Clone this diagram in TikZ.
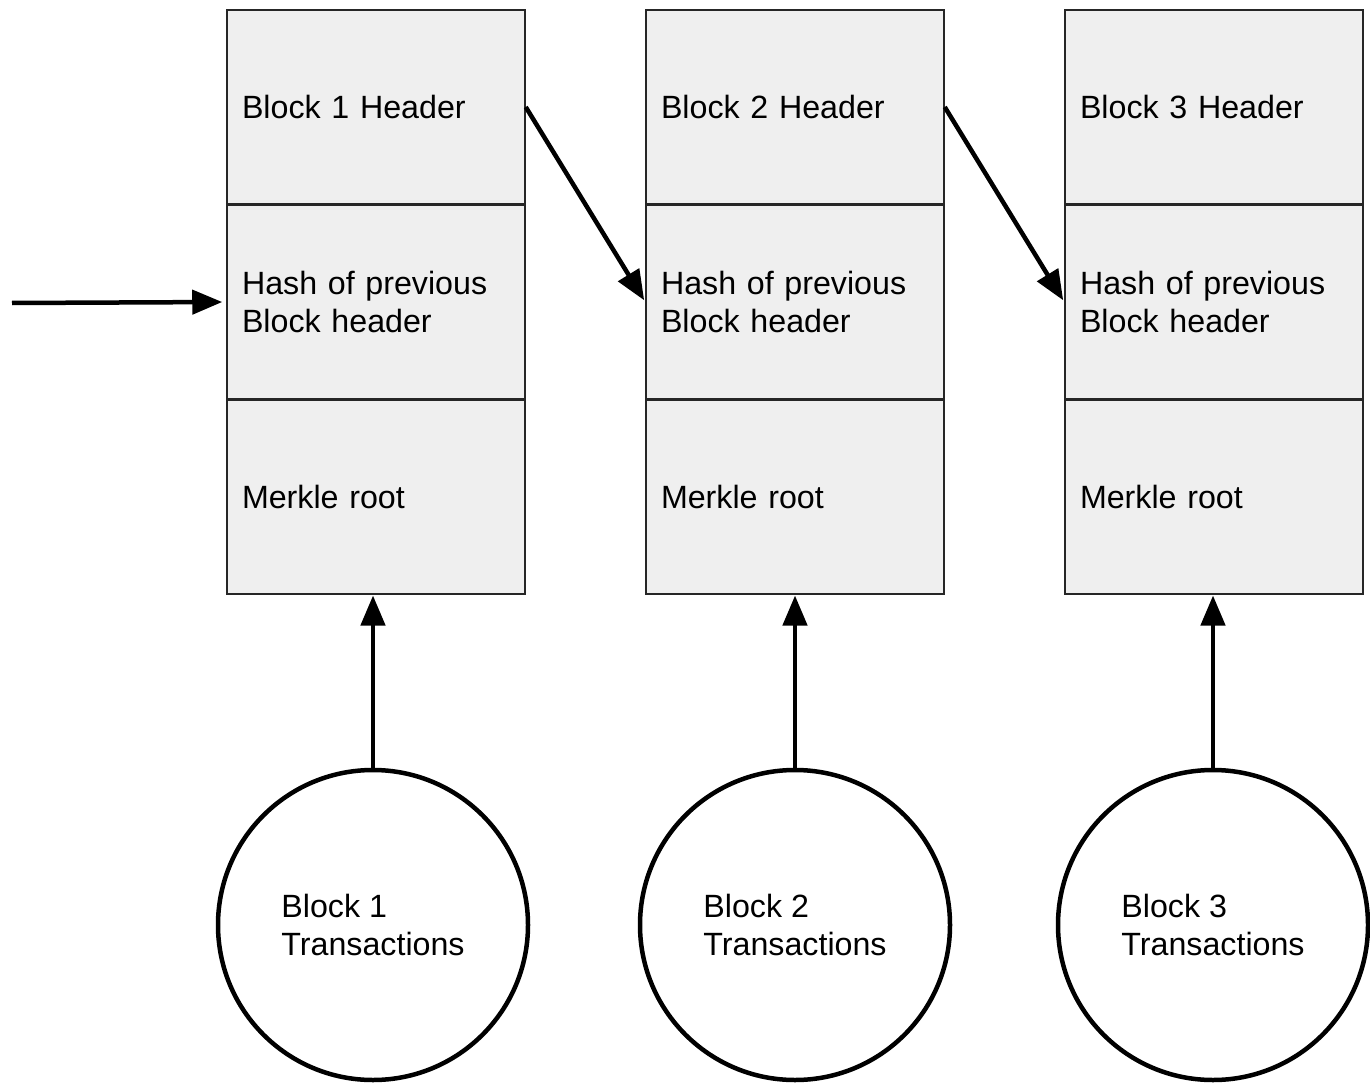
\documentclass[tikz,border=0pt]{standalone}
\usepackage{fontspec}
\setmainfont{Liberation Sans}
\usepackage{tikz}
\usetikzlibrary{positioning,arrows.meta}
\definecolor{cellgray}{HTML}{EFEFEF}
\tikzset{
  cell/.style={draw=black!85, line width=1.5pt, fill=cellgray, rectangle, text width=268pt, inner xsep=15pt, minimum height=193.5pt, align=left, font=\fontsize{32.2}{38}\selectfont},
  txcircle/.style={draw, circle, line width=4.5pt, minimum size=310pt, align=left, font=\fontsize{32.2}{38}\selectfont},
  link/.style={line width=4.5pt, -{Triangle[length=30pt,width=24pt]}}
}
\begin{document}
\begin{tikzpicture}[x=1pt,y=-1pt]
\useasboundingbox (0,0) rectangle (1370,1091);
%Blocks
\node [cell] (b1h) at (376,107) {Block 1 Header};
\node [cell, below=0pt of b1h] (b1p) {Hash of previous\\Block header};
\node [cell, below=0pt of b1p] (b1m) {Merkle root};
\node [cell] (b2h) at (795,107) {Block 2 Header};
\node [cell, below=0pt of b2h] (b2p) {Hash of previous\\Block header};
\node [cell, below=0pt of b2p] (b2m) {Merkle root};
\node [cell] (b3h) at (1214,107) {Block 3 Header};
\node [cell, below=0pt of b3h] (b3p) {Hash of previous\\Block header};
\node [cell, below=0pt of b3p] (b3m) {Merkle root};
%Transactions
\node [txcircle] (t1) at (373,925) {Block 1\\Transactions};
\node [txcircle] (t2) at (795,925) {Block 2\\Transactions};
\node [txcircle] (t3) at (1213,925) {Block 3\\Transactions};
%Links
\coordinate (in) at (12,303);
\draw [link, shorten >=4pt] (in) -- (b1p.west);
\draw [link, shorten >=2pt] (b1h.east) -- (b2p.west);
\draw [link, shorten >=2pt] (b2h.east) -- (b3p.west);
\draw [link, shorten >=1pt] (t1.north) -- (t1.north |- b1m.south);
\draw [link, shorten >=1pt] (t2.north) -- (t2.north |- b2m.south);
\draw [link, shorten >=1pt] (t3.north) -- (t3.north |- b3m.south);
\end{tikzpicture}
\end{document}
